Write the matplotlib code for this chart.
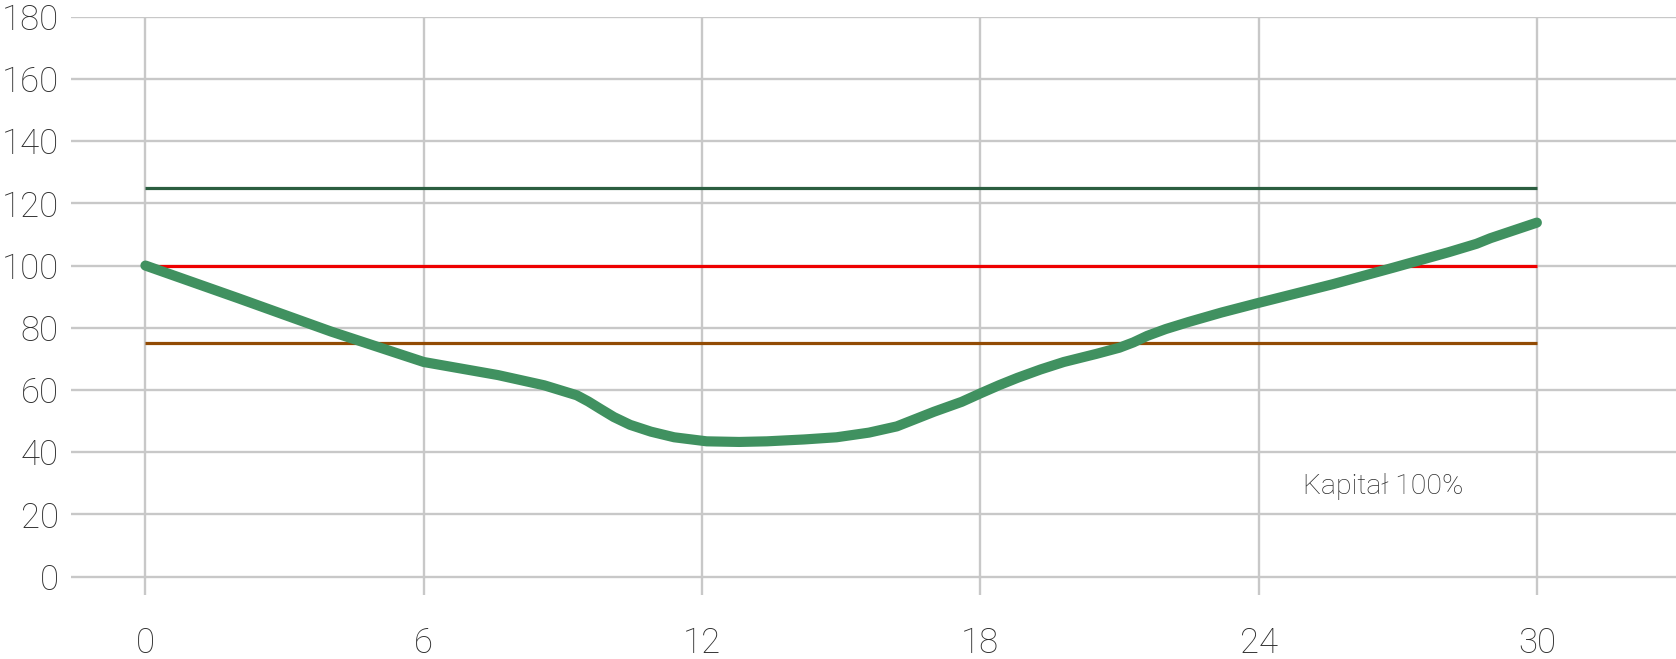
import matplotlib.pyplot as plt

# values
months = [0, 2, 4, 6, 7.6, 8.6, 9.3, 9.55, 9.8, 10.1, 10.45, 10.9, 11.4, 12.1,
          12.8, 13.4, 14.2, 14.9, 15.6, 16.2, 17.0, 17.6, 18.0, 18.4, 18.8, 19.3,
          19.8, 20.5, 21.0, 21.3, 21.6, 22.0, 22.5, 23.2, 24.0, 25.6, 26.9, 28.1,
          28.7, 29.0, 29.4, 30.0]
capital = [100, 89.5, 78.8, 69, 64.8, 61.5, 58.3, 56.3, 54, 51.3, 48.8, 46.6, 44.8, 43.5,
           43.3, 43.5, 44.1, 44.8, 46.3, 48.3, 53, 56.2, 58.9, 61.5, 63.9, 66.6,
           69.0, 71.6, 73.6, 75.3, 77.4, 79.6, 81.9, 84.9, 88, 94, 99.3, 104.3,
           107, 108.8, 110.8, 113.8]

levels = [125, 100, 75]
level_colors = ['#2B5E40', '#EE0000', '#924B04']

x_ticks = [0, 6, 12, 18, 24, 30]
y_ticks = list(range(0, 181, 20))

plt.rcParams['font.family'] = ['Roboto', 'DejaVu Sans']

fig = plt.figure(figsize=(16.76, 6.59), dpi=100)
ax = fig.add_axes([0.0425, 0.0971, 1 - 0.0425, 0.9747 - 0.0971])

# horizontal thresholds
for lvl, col in zip(levels, level_colors):
    ax.plot([x_ticks[0], x_ticks[-1]], [lvl, lvl], color=col, lw=2.3, zorder=2,
            solid_capstyle='butt')

# capital curve
ax.plot(months, capital, color='#409160', lw=7.3, zorder=3,
        solid_capstyle='round', solid_joinstyle='round')

ax.text(24.95, 28.9, 'Kapitał 100%', fontsize=20.5, color='#2E2E2E',
        fontweight='light', va='center', ha='left')

ax.set_xlim(-1.6, 33.0)
ax.set_ylim(-5.9, 180)

# grid: vertical lines only at ticks, horizontal full width
for xv in x_ticks:
    ax.axvline(xv, color='#C8C8C8', lw=1.7, zorder=1)
for yv in y_ticks:
    ax.axhline(yv, color='#C8C8C8', lw=1.7, zorder=1)

ax.set_xticks(x_ticks)
ax.set_yticks(y_ticks)
ax.set_xticklabels([str(v) for v in x_ticks])
ax.set_yticklabels([str(v) for v in y_ticks])
ax.tick_params(axis='both', length=0, labelsize=25, labelcolor='#2E2E2E')
ax.tick_params(axis='y', pad=9)
ax.tick_params(axis='x', pad=23)
for lab in ax.get_xticklabels() + ax.get_yticklabels():
    lab.set_fontweight('light')

for s in ax.spines.values():
    s.set_visible(False)

fig.savefig('out.png', dpi=100)
